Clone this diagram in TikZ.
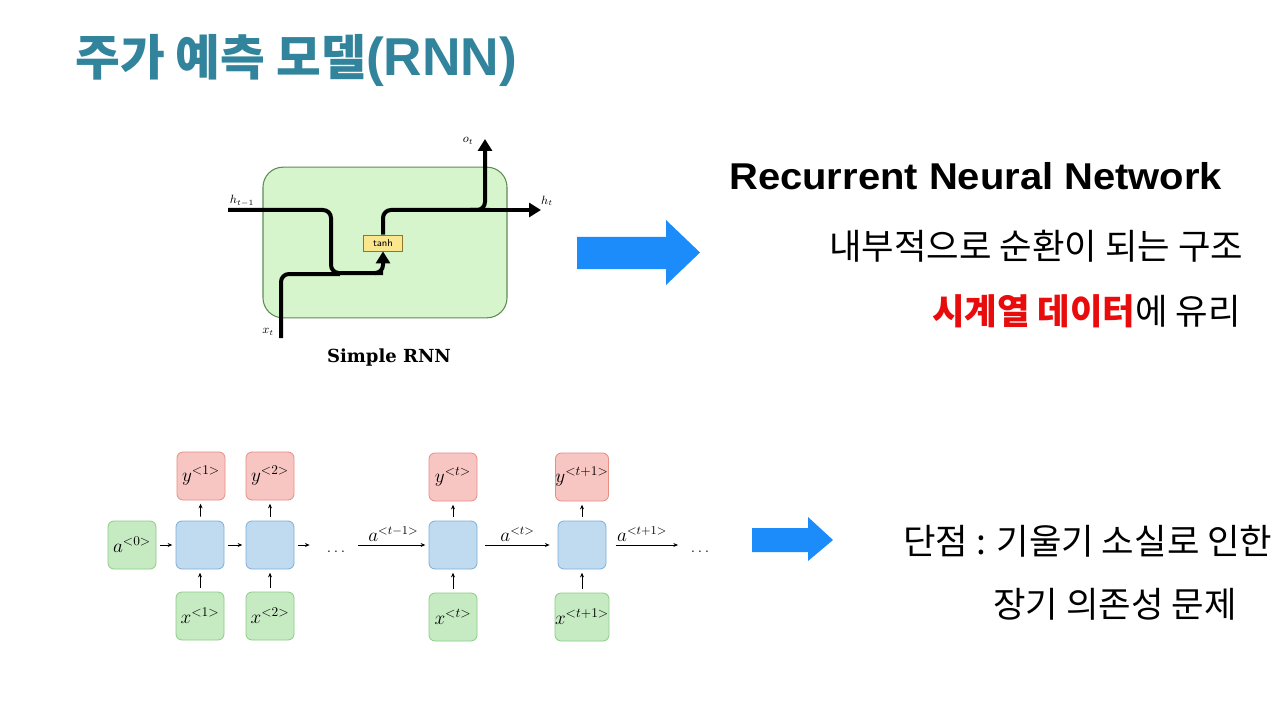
\documentclass[tikz,border=0pt]{standalone}
\usepackage{fontspec}
\newfontfamily\kr{Noto Sans CJK KR}
\newfontfamily\arialf[FakeStretch=1.07]{Liberation Sans}
\newfontfamily\arialt{Liberation Sans}
\newfontfamily\serifbold{DejaVu Serif}
\usetikzlibrary{arrows.meta}
\definecolor{titleteal}{RGB}{49,132,155}
\definecolor{cellgreen}{RGB}{214,245,205}
\definecolor{cellgreenline}{RGB}{95,140,85}
\definecolor{tanhyellow}{RGB}{250,230,140}
\definecolor{tanhline}{RGB}{140,120,40}
\definecolor{bigblue}{RGB}{28,140,250}
\definecolor{hotred}{RGB}{232,12,12}
\definecolor{boxred}{RGB}{248,198,194}
\definecolor{boxredline}{RGB}{232,140,132}
\definecolor{boxblue}{RGB}{192,218,240}
\definecolor{boxblueline}{RGB}{125,174,216}
\definecolor{boxgreen}{RGB}{198,235,195}
\definecolor{boxgreenline}{RGB}{140,203,133}
\tikzset{
  flow/.style={line width=3pt, rounded corners=6pt, line cap=butt},
  flowtip/.style={-{Triangle[length=9pt,width=10.5pt]}},
  lbl/.style={inner sep=0pt, font=\fontsize{9}{10}\selectfont},
  cellbox/.style={draw, rounded corners=4.5pt, minimum size=36pt, inner sep=0pt, line width=0.6pt, font=\fontsize{14}{16}\selectfont},
  ybox/.style={cellbox, fill=boxred, draw=boxredline},
  hbox/.style={cellbox, fill=boxblue, draw=boxblueline},
  xbox/.style={cellbox, fill=boxgreen, draw=boxgreenline},
  thin arrow/.style={-{Stealth[length=3.5pt,width=3pt]}, line width=0.6pt, shorten <=3pt, shorten >=2.5pt},
  seqlabel/.style={above, inner sep=2pt, font=\fontsize{13.5}{15}\selectfont},
  krtext/.style={anchor=west, inner sep=0pt, font=\kr\fontsize{26.5}{30}\selectfont},
}
\begin{document}
\begin{tikzpicture}[x=0.75pt, y=-0.75pt]
\useasboundingbox (0,0) rectangle (1280,720);
\fill[white] (0,0) rectangle (1280,720);

% title
\node[anchor=west, inner sep=0pt, text=titleteal, font=\kr\bfseries\fontsize{36.5}{40}\selectfont]
  (title) at (75,60) {주가 예측 모델{\arialt\bfseries\fontsize{40}{44}\selectfont(RNN)}};

% ---- simple RNN cell ----
\node[draw=cellgreenline, fill=cellgreen, rounded corners=15pt, line width=0.8pt,
      minimum width=183pt, minimum height=113pt] (cell) at (385,242.5) {};
\node[draw=tanhline, fill=tanhyellow, line width=0.6pt, minimum width=29pt, minimum height=12pt,
      inner sep=0pt, font=\sffamily\fontsize{7.5}{8}\selectfont] (tanh) at (383,243) {tanh};
\coordinate (hin) at (228,210);
\coordinate (xin) at (281,338);
\coordinate (hout) at (541,210);
\coordinate (oout) at (485,139);
\draw[flow] (hin) -- (331,210) -- (331,273) -- (383,273);
\draw[flow] (xin) -- (281,274) -- (340,274);
\draw[flow, flowtip] (376,273) -- (383,273) -- (tanh.south);
\draw[flow] (tanh.north) -- (383,210) -- (490,210);
\draw[flow, flowtip] (470,210) -- (485,210) -- (oout);
\draw[flow, flowtip] (480,210) -- (hout);
\node[lbl] (lh1) at (242,201) {$h_{t-1}$};
\node[lbl] (lo) at (468,141) {$o_t$};
\node[lbl] (lh) at (547,201) {$h_t$};
\node[lbl] (lx) at (268,332) {$x_t$};
\node[inner sep=0pt, font=\serifbold\bfseries\fontsize{13.5}{15}\selectfont] (cap) at (389,358) {Simple RNN};

% ---- big arrows ----
\fill[bigblue] (577,237) -- (666,237) -- (666,220) -- (700,252.5) -- (666,285) -- (666,269) -- (577,269) -- cycle;
\fill[bigblue] (752,528) -- (808,528) -- (808,517) -- (833,540) -- (808,561) -- (808,552) -- (752,552) -- cycle;

% ---- right-hand text ----
\node[anchor=west, inner sep=0pt, font=\arialf\bfseries\fontsize{28}{32}\selectfont]
  (rnn) at (729,176) {Recurrent Neural Network};
\node[krtext] (l1) at (829,246) {내부적으로 순환이 되는 구조};
\node[krtext] (l2) at (932,311) {{\color{hotred}\bfseries 시계열 데이터}에 유리};
\node[krtext] (l3) at (903,541) {단점 : 기울기 소실로 인한};
\node[krtext] (l4) at (993,604) {장기 의존성 문제};

% ---- unrolled RNN ----
\node[xbox] (a0) at (132,545) {$a^{<0>}$};
\node[hbox] (c1) at (200,545) {};
\node[hbox] (c2) at (270,545) {};
\node[hbox] (ct) at (453,545) {};
\node[hbox] (ct1) at (582,545) {};
\node[ybox] (y1) at (201,476) {$y^{<1>}$};
\node[ybox] (y2) at (270,476) {$y^{<2>}$};
\node[ybox] (yt) at (453,477) {$y^{<t>}$};
\node[ybox] (yt1) at (582,477) {$y^{<t+1>}$};
\node[xbox] (x1) at (200,616) {$x^{<1>}$};
\node[xbox] (x2) at (270,616) {$x^{<2>}$};
\node[xbox] (xt) at (453,617) {$x^{<t>}$};
\node[xbox] (xt1) at (582,617) {$x^{<t+1>}$};
\node[font=\fontsize{12}{14}\selectfont] (dots1) at (336,552) {$\ldots$};
\node[font=\fontsize{12}{14}\selectfont] (dots2) at (700,552) {$\ldots$};
\coordinate (c2out) at (313,545);
\coordinate (ain) at (358,545);
\coordinate (aout) at (678,545);

\draw[thin arrow] (a0) -- (c1);
\draw[thin arrow] (c1) -- (c2);
\draw[thin arrow] (c2) -- (c2out);
\draw[thin arrow, shorten <=0pt] (ain) -- node[seqlabel] {$a^{<t-1>}$} (ct);
\draw[thin arrow, shorten <=6pt, shorten >=6pt] (ct) -- node[seqlabel] {$a^{<t>}$} (ct1);
\draw[thin arrow, shorten >=0pt, shorten <=7pt] (ct1) -- node[seqlabel] {$a^{<t+1>}$} (aout);
\foreach \c/\o in {c1/y1, c2/y2, ct/yt, ct1/yt1} \draw[thin arrow] (\c) -- (\o);
\foreach \i/\c in {x1/c1, x2/c2, xt/ct, xt1/ct1} \draw[thin arrow] (\i) -- (\c);
\end{tikzpicture}
\end{document}
